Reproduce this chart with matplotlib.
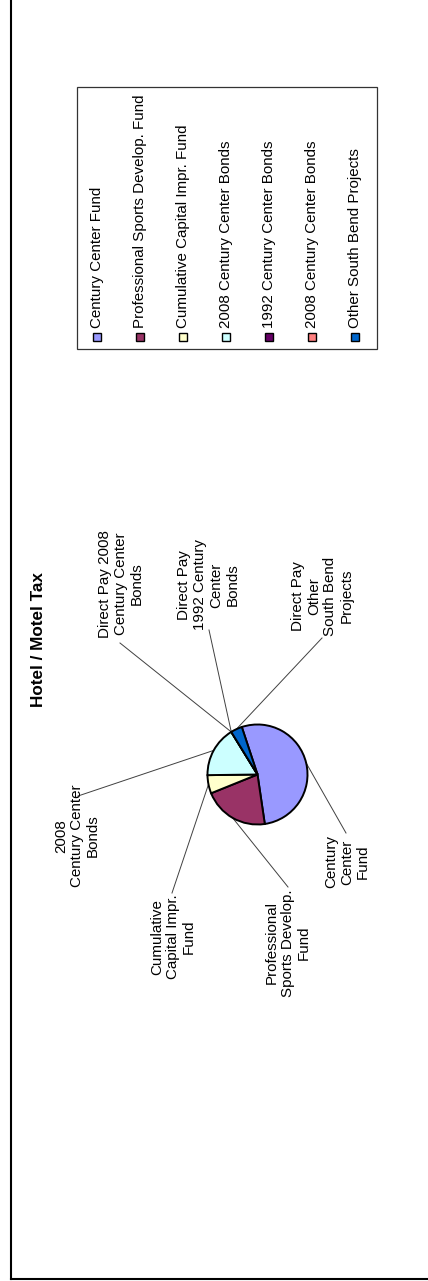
import numpy as np
import matplotlib
matplotlib.use("Agg")
import matplotlib.pyplot as plt
from matplotlib.patches import Rectangle

plt.rcParams["font.family"] = ["Liberation Sans", "DejaVu Sans"]

W, H = 428, 1281  # final image is the landscape chart turned 90 deg left

categories = [
    "Century Center Fund",
    "Professional Sports Develop. Fund",
    "Cumulative Capital Impr. Fund",
    "2008 Century Center Bonds",
    "1992 Century Center Bonds",
    "2008 Century Center Bonds",
    "Other South Bend Projects",
]
slice_labels = [
    "Century\nCenter\nFund",
    "Professional\nSports Develop.\nFund",
    "Cumulative\nCapital Impr.\nFund",
    "2008\nCentury Center\nBonds",
    "Direct Pay\n1992 Century\nCenter\nBonds",
    "Direct Pay 2008\nCentury Center\nBonds",
    "Direct Pay\nOther\nSouth Bend\nProjects",
]
shares = [52.7, 21.2, 5.9, 16.4, 0.0, 0.0, 3.7]
colors = ["#9999FF", "#993366", "#FFFFCC", "#CCFFFF", "#660066", "#FF8080", "#0066CC"]

# layout (pixel positions in the final, rotated picture)
PIE_C = (257.5, 774.5)
PIE_R = 50
label_xy = [(347, 862), (288, 943), (173, 937), (77, 836),
            (208, 585), (121, 584), (322, 596)]
line_end = [(346, 833), (288, 887), (172, 893), (78, 796),
            (209, 630), (120, 643), (322, 638)]
LINE_COLOR = "#404040"

fig = plt.figure(figsize=(W / 100, H / 100), dpi=100, facecolor="white")
ax = fig.add_axes([0, 0, 1, 1])

# y axis is inverted below, so angles run the other way on screen
wedges, _ = ax.pie(shares, colors=colors, center=PIE_C, radius=PIE_R,
                   startangle=-108.3, counterclock=True,
                   wedgeprops=dict(edgecolor="black", linewidth=1.4))
ax.set_xlim(0, W)
ax.set_ylim(H, 0)
ax.set_aspect("equal")
ax.axis("off")

for w, lab, (tx, ty), (ex, ey) in zip(wedges, slice_labels, label_xy, line_end):
    mid = np.deg2rad((w.theta1 + w.theta2) / 2)
    px = PIE_C[0] + PIE_R * np.cos(mid)
    py = PIE_C[1] + PIE_R * np.sin(mid)
    ax.plot([px, ex], [py, ey], color=LINE_COLOR, lw=0.7, zorder=0)
    ax.text(tx, ty, lab, rotation=90, ha="center", va="center",
            multialignment="center", fontsize=10.9, color="black")

ax.text(39, 640, "Hotel / Motel Tax", rotation=90, ha="center", va="center",
        fontsize=12.3, fontweight="bold", color="black")

# legend, drawn by hand since it is rotated
ax.add_patch(Rectangle((77, 87), 300, 262, facecolor="white",
                       edgecolor="#333333", lw=0.9))
for i, (name, col) in enumerate(zip(categories, colors)):
    lx = 97 + 43 * i
    ax.add_patch(Rectangle((lx - 4, 333), 8, 8, facecolor=col,
                           edgecolor="black", lw=1.0))
    ax.text(lx, 328, name, rotation=90, rotation_mode="anchor",
            ha="left", va="center", fontsize=10.9, color="black")

# chart area border (top and right are cut off)
ax.plot([11, 11], [0, 1279], color="black", lw=1.5)
ax.plot([11, W], [1279, 1279], color="black", lw=1.5)

fig.savefig("out.png", dpi=100, facecolor="white")
